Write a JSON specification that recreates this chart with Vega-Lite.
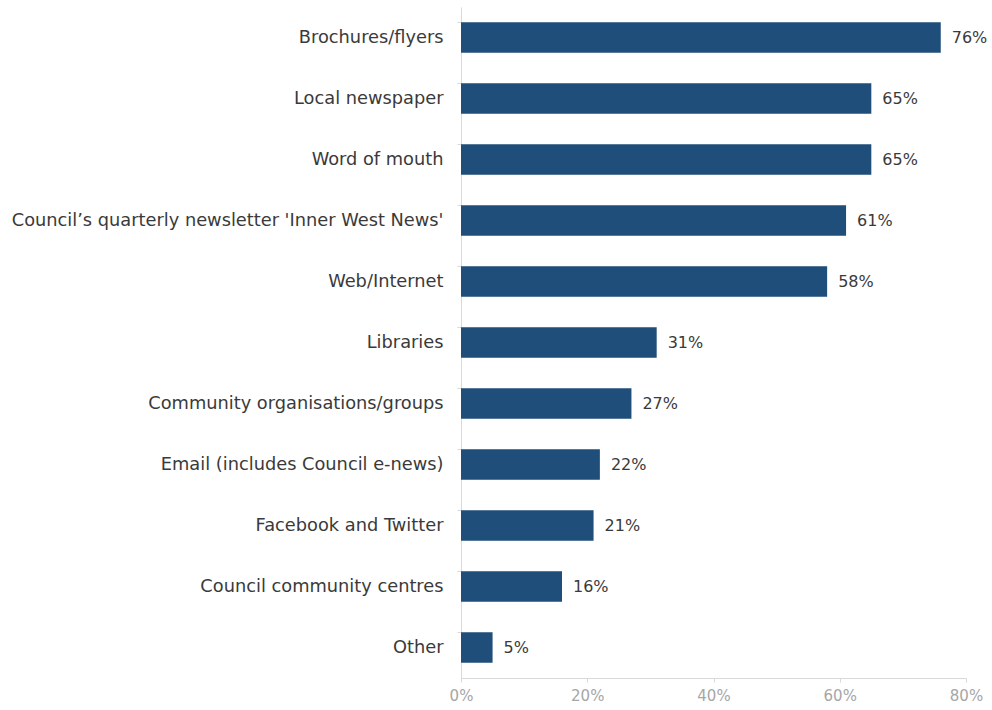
{
  "$schema": "https://vega.github.io/schema/vega-lite/v6.json",
  "autosize": {"type": "none"},
  "padding": {"left": 461, "top": 7, "right": 26, "bottom": 32},
  "width": 505,
  "height": 671,
  "background": "white",
  "data": {"values": [
    {"source": "Brochures/flyers", "pct": 76},
    {"source": "Local newspaper", "pct": 65},
    {"source": "Word of mouth", "pct": 65},
    {"source": "Council’s quarterly newsletter 'Inner West News'", "pct": 61},
    {"source": "Web/Internet", "pct": 58},
    {"source": "Libraries", "pct": 31},
    {"source": "Community organisations/groups", "pct": 27},
    {"source": "Email (includes Council e-news)", "pct": 22},
    {"source": "Facebook and Twitter", "pct": 21},
    {"source": "Council community centres", "pct": 16},
    {"source": "Other", "pct": 5}
  ]},
  "config": {"view": {"stroke": null}, "font": "DejaVu Sans"},
  "encoding": {
    "y": {"field": "source", "type": "nominal", "sort": null,
      "scale": {"paddingInner": 0.5, "paddingOuter": 0.25},
      "axis": {"title": null, "labelFontSize": 17.8, "labelColor": "#3a3a3a", "labelPadding": 14,
        "domainColor": "#d9d9d9", "tickColor": "#d9d9d9", "tickSize": 4, "bandPosition": 0,
        "labelLimit": 500}},
    "x": {"field": "pct", "type": "quantitative",
      "scale": {"domain": [0, 80], "nice": false},
      "axis": {"title": null, "values": [0, 20, 40, 60, 80], "labelExpr": "datum.value + '%'",
        "grid": false, "labelFontSize": 15, "labelColor": "#a6a6a6", "domainColor": "#d9d9d9",
        "tickColor": "#d9d9d9", "tickSize": 4, "labelPadding": 6, "labelFlush": false}}
  },
  "layer": [
    {"mark": {"type": "bar", "color": "#1f4e7a"}},
    {"mark": {"type": "text", "align": "left", "dx": 11, "fontSize": 16, "color": "#3a3a3a",
      "text": {"expr": "datum.pct + '%'"}}}
  ]
}
